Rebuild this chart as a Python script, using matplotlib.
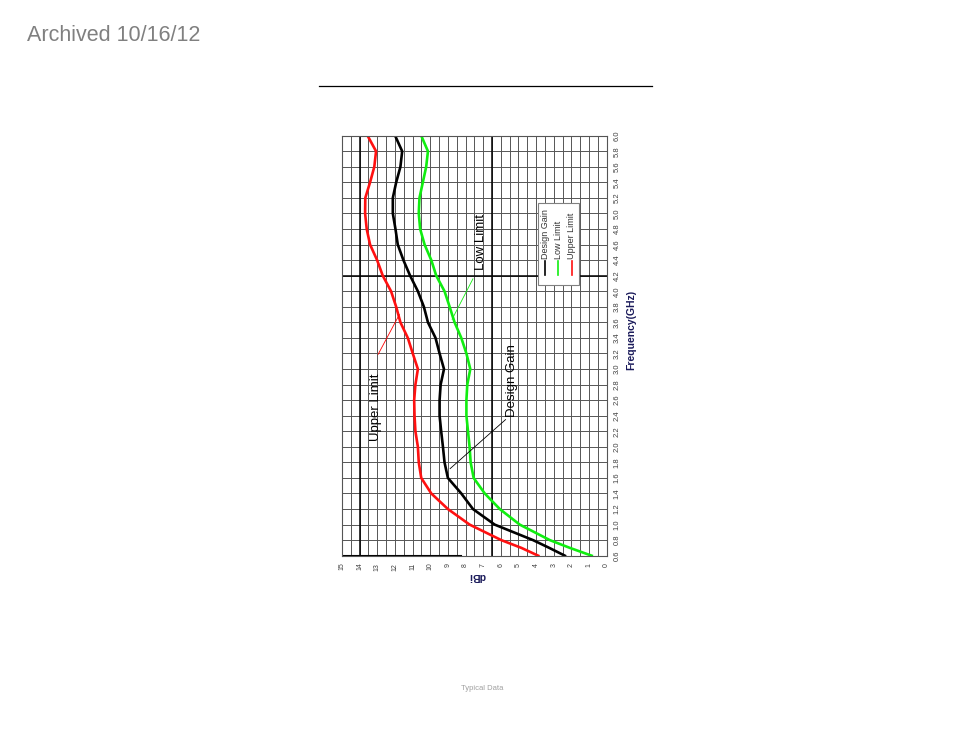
import matplotlib
matplotlib.use("Agg")
from matplotlib import pyplot as plt
from matplotlib.ticker import MultipleLocator

plt.rcParams['font.family'] = ['Liberation Sans', 'DejaVu Sans']

# frequency in GHz, gain in dBi (chart is drawn rotated 90 degrees)
freq = [0.6, 0.7, 0.8, 1.0, 1.2, 1.4, 1.6, 1.8, 2.0, 2.2, 2.4, 2.6, 2.8, 3.0, 3.2, 3.4, 3.6, 3.8,
        4.0, 4.2, 4.4, 4.6, 4.8, 5.0, 5.2, 5.4, 5.6, 5.8, 6.0]
design_gain = [2.37, 3.25, 4.17, 6.35, 7.58, 8.24, 9.0, 9.19, 9.28, 9.38, 9.47, 9.47, 9.41, 9.22,
               9.47, 9.70, 10.13, 10.36, 10.70, 11.14, 11.52, 11.84, 11.97, 12.12, 12.12, 11.93,
               11.69, 11.59, 11.99]
low_limit = [0.85, 2.08, 3.22, 4.93, 6.06, 6.91, 7.54, 7.71, 7.77, 7.86, 7.95, 7.95, 7.90, 7.73,
             7.95, 8.24, 8.62, 8.90, 9.19, 9.66, 9.94, 10.32, 10.57, 10.65, 10.61, 10.42, 10.23,
             10.13, 10.51]
upper_limit = [3.88, 4.83, 5.97, 7.77, 9.0, 9.94, 10.51, 10.65, 10.70, 10.84, 10.89, 10.91, 10.84,
               10.70, 10.99, 11.27, 11.69, 11.93, 12.22, 12.69, 13.01, 13.41, 13.60, 13.69, 13.68,
               13.41, 13.17, 13.07, 13.55]

dbi_ticks = list(range(0, 16))
freq_ticks = [round(0.6 + 0.2 * i, 1) for i in range(28)]

fig = plt.figure(figsize=(9.54, 7.38), dpi=100)

fig.text(0.028, 0.952, "Archived 10/16/12", fontsize=15.5, color="#808080", va="center")
fig.add_artist(plt.Line2D([319 / 954, 652 / 954], [1 - 86 / 738, 1 - 86 / 738], color="black", lw=0.9))
fig.text(482 / 954, 1 - 688 / 738, "Typical Data", fontsize=5.5, color="#a0a0a0", ha="center", va="center")

ax = fig.add_axes([342 / 954, 1 - 555.7 / 738, 264.7 / 954, 420 / 738])
ax.set_xlim(15, 0)
ax.set_ylim(0.6, 6.0)

ax.set_xticks(dbi_ticks)
ax.set_xticklabels([str(t) for t in dbi_ticks], rotation=90, fontsize=5, color="#404040")
ax.xaxis.set_minor_locator(MultipleLocator(0.5))
ax.set_yticks(freq_ticks)
ax.set_yticklabels(["%.1f" % t for t in freq_ticks], rotation=90, fontsize=5.5, color="#404040", va="center")
ax.yaxis.tick_right()
ax.tick_params(axis="both", which="both", length=0, pad=5)

ax.grid(True, which="both", color="#555555", lw=0.7)
ax.set_axisbelow(True)
for s in ax.spines.values():
    s.set_color("#555555")
    s.set_linewidth(0.8)

# heavier reference lines visible in the scan
ax.axvline(14, color="black", lw=1.1)
ax.axvline(6.5, color="black", lw=1.1)
ax.axhline(4.2, color="black", lw=1.1)
ax.axhline(0.6, xmin=0, xmax=0.45, color="black", lw=1.5)

ax.plot(upper_limit, freq, color="#ff1010", lw=1.9, label="Upper Limit")
ax.plot(design_gain, freq, color="black", lw=1.9, label="Design Gain")
ax.plot(low_limit, freq, color="#10ee10", lw=1.9, label="Low Limit")

fig.text(631 / 954, 1 - 330 / 738, "Frequency(GHz)", rotation=90, fontsize=7.5, fontweight="bold",
         color="#1a1a5a", ha="center", va="center")
fig.text(477 / 954, 1 - 576 / 738, "dBi", rotation=180, fontsize=7.5, fontweight="bold",
         color="#1a1a5a", ha="center", va="center")

# callouts
ax.text(13.05, 2.51, "Upper Limit", rotation=90, fontsize=9.5, ha="center", va="center")
ax.plot([12.95, 11.75], [3.19, 3.70], color="red", lw=0.6)
ax.text(7.1, 4.63, "Low Limit", rotation=90, fontsize=9.5, ha="center", va="center")
ax.plot([7.58, 8.76], [4.16, 3.64], color="#10ee10", lw=0.6)
ax.text(5.35, 2.85, "Design Gain", rotation=90, fontsize=9.5, ha="center", va="center")
ax.plot([5.73, 8.87], [2.35, 1.72], color="black", lw=0.6)

# legend box (rotated)
lx0, lx1 = (606.7 - 538) / 17.6, (606.7 - 579) / 17.6
ly0, ly1 = 0.6 + (555.7 - 285) / 77.8, 0.6 + (555.7 - 203) / 77.8
ax.add_patch(plt.Rectangle((lx1, ly0), lx0 - lx1, ly1 - ly0, facecolor="white",
                           edgecolor="#808080", lw=0.8, zorder=5))
names = ["Design Gain", "Low Limit", "Upper Limit"]
colors = ["black", "#10ee10", "#ff1010"]
for i, (n, c) in enumerate(zip(names, colors)):
    xx = lx0 - (lx0 - lx1) * (0.18 + 0.32 * i)
    ax.plot([xx, xx], [ly0 + 0.13, ly0 + 0.31], color=c, lw=1.2, zorder=6)
    ax.text(xx, ly0 + 0.33, n, rotation=90, fontsize=6.5, color="#333333", ha="center", va="bottom", zorder=6)

fig.savefig("out.png", dpi=100)
